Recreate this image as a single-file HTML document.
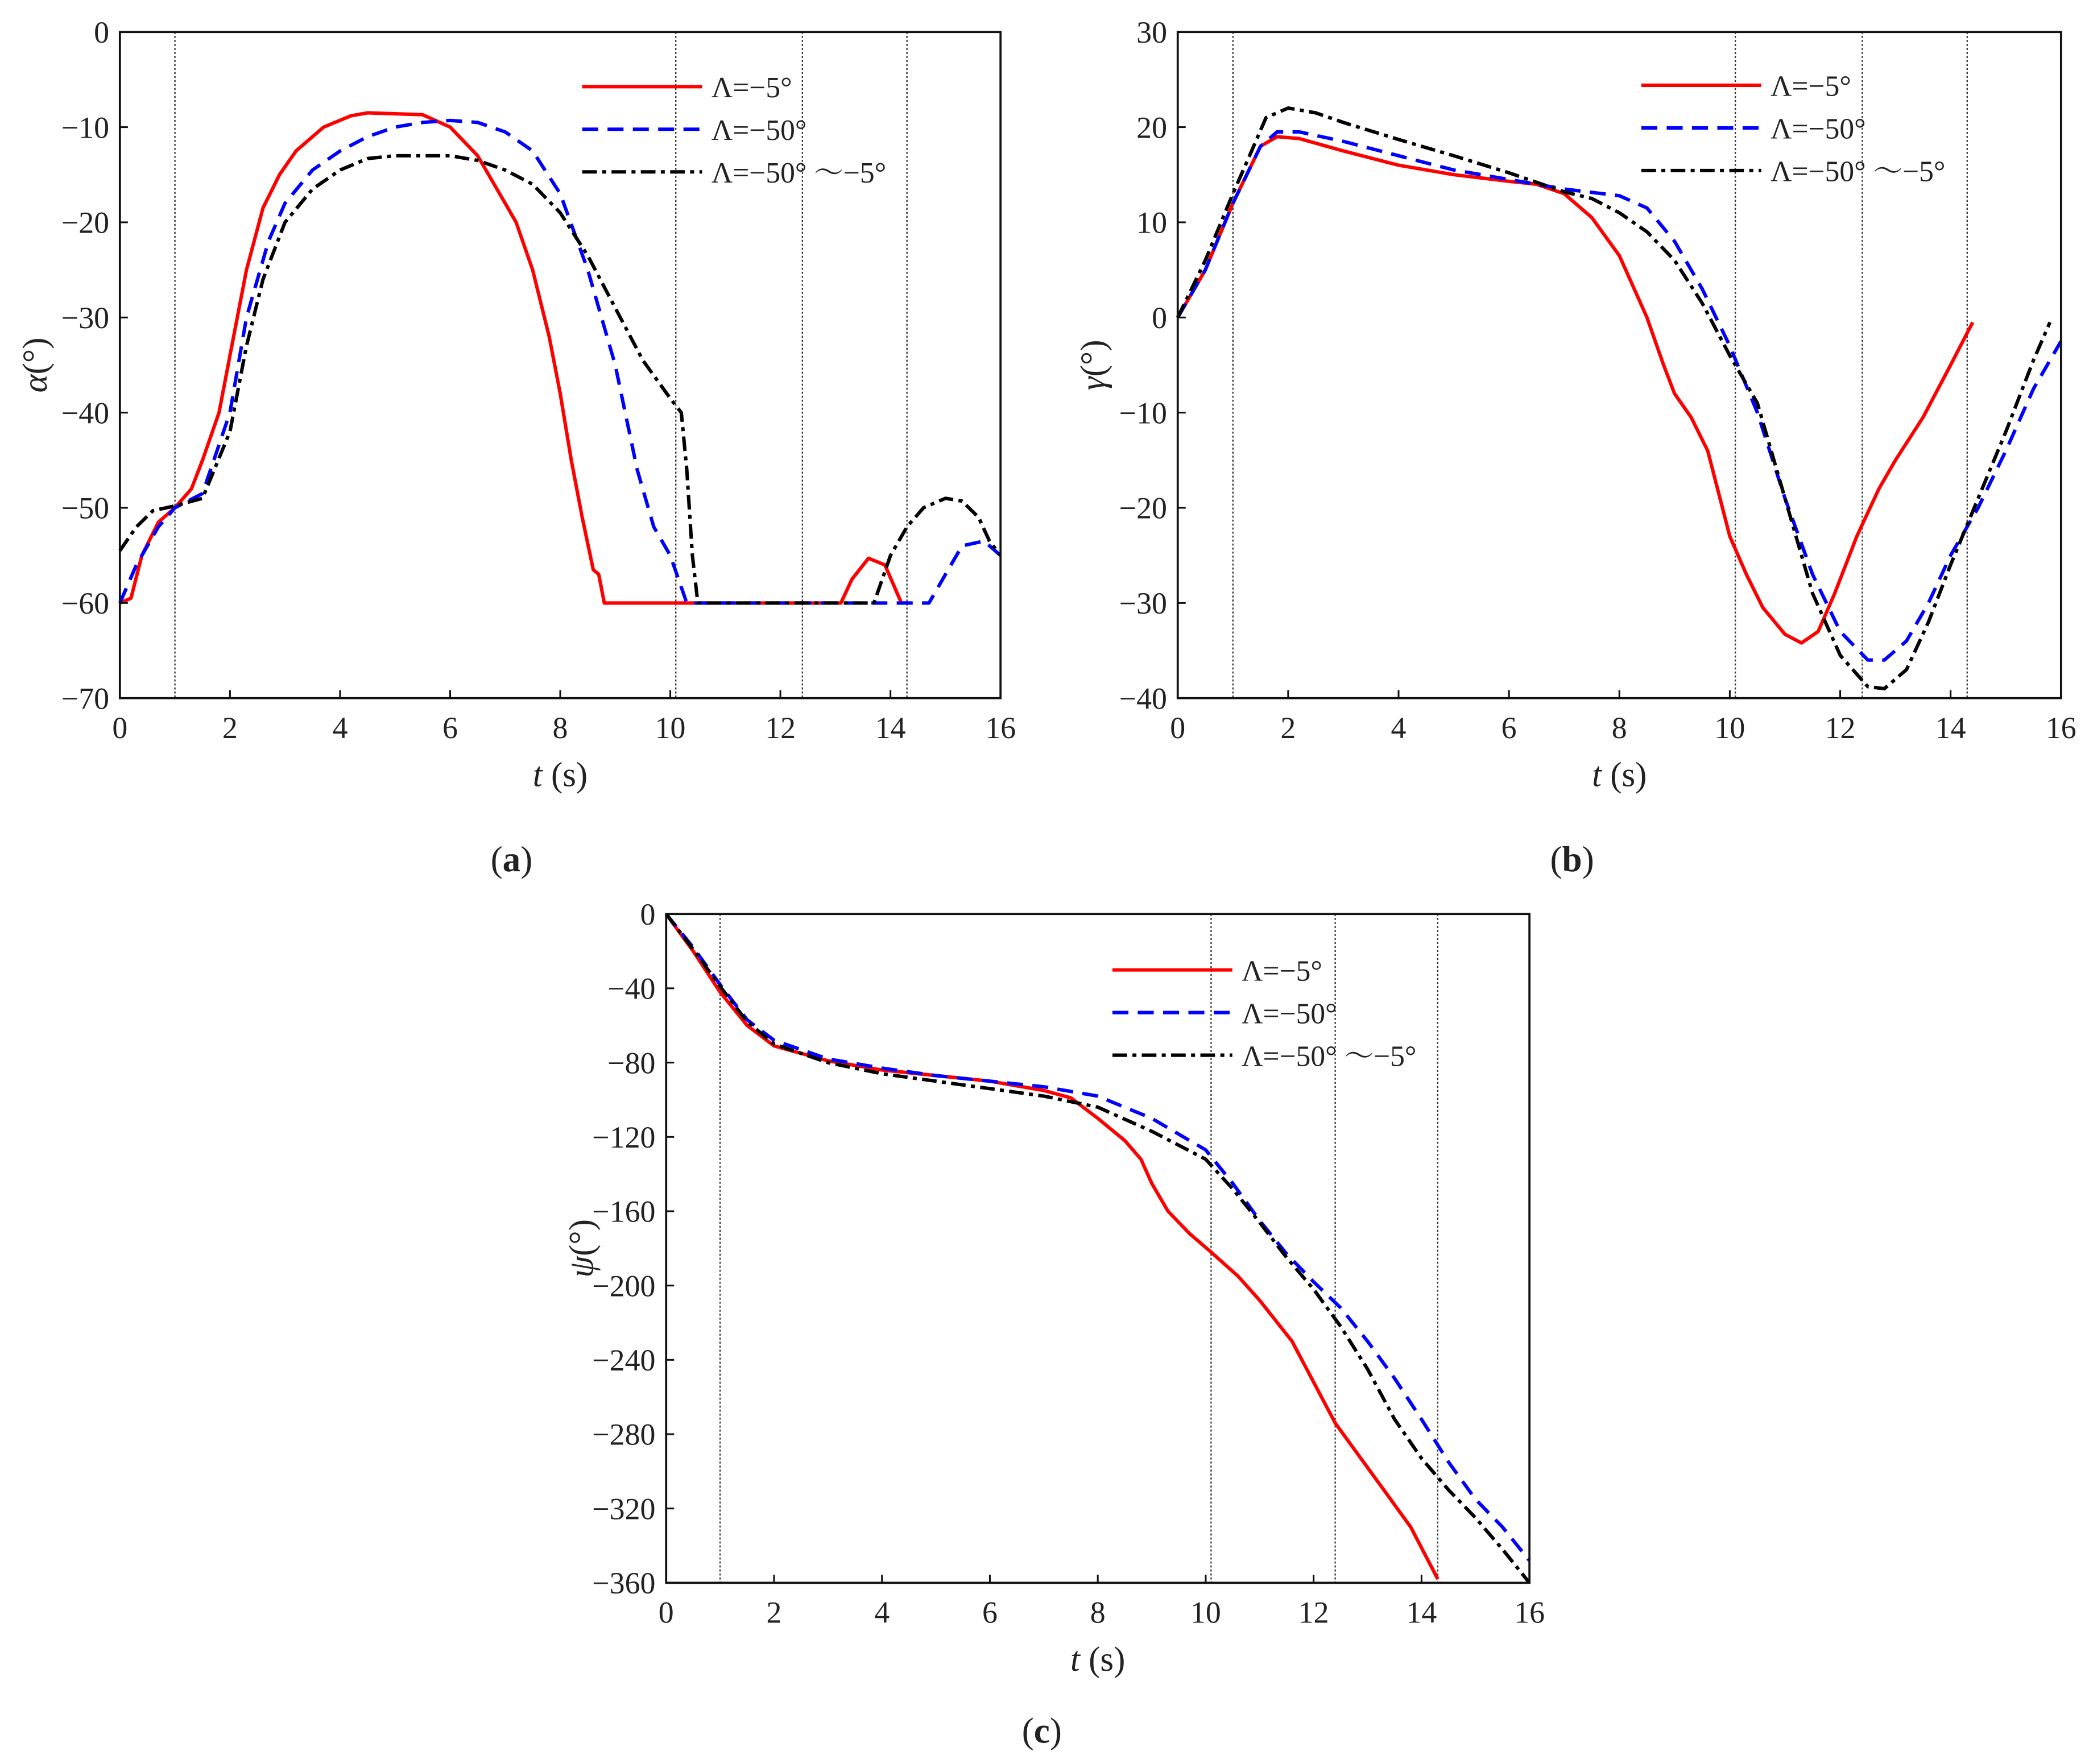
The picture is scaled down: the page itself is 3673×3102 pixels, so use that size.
<!DOCTYPE html>
<html><head><meta charset="utf-8">
<style>
html,body{margin:0;padding:0;background:#fff;}
svg{display:block;}
text{font-family:"Liberation Serif","Noto Serif CJK SC",serif;fill:#222;}
</style></head>
<body>
<svg id="fig" width="3673" height="3102" viewBox="0 0 1568 1324" preserveAspectRatio="none" xmlns="http://www.w3.org/2000/svg"></svg>
<script>
// ---- data: panel (a) alpha ----
const aRedT=[0,0.2,0.4,0.7,1,1.3,1.5,1.8,2,2.3,2.6,2.9,3.2,3.7,4.2,4.5,5,5.5,6,6.5,7,7.2,7.5,7.8,8,8.2,8.4,8.6,8.7,8.8,13.1,13.3,13.6,13.9,14.2,14.3];
const aRedV=[-60,-59.5,-55,-51.5,-50,-48,-45,-40,-34,-25,-18.5,-15,-12.5,-10,-8.8,-8.5,-8.6,-8.7,-10,-13,-18,-20,-25,-32,-38,-45,-51,-56.5,-57,-60,-60,-57.5,-55.3,-56,-60,-60];
const aBlueT=[0,0.3,0.7,1,1.5,2,2.3,2.7,3,3.5,4,4.5,5,5.5,6,6.5,7,7.5,8,8.5,9,9.4,9.7,10,10.3,14.7,15,15.3,15.7,16];
const aBlueV=[-60,-56,-52,-50,-48.5,-40,-30,-22,-18,-14.5,-12.5,-11,-10,-9.5,-9.3,-9.5,-10.5,-12.5,-17,-25,-35,-46,-52,-55,-60,-60,-57,-54,-53.5,-55];
const aBlackT=[0,0.3,0.6,1,1.5,2,2.3,2.6,3,3.5,4,4.5,5,5.5,6,6.5,7,7.5,8,8.5,9,9.5,10,10.2,10.3,10.4,10.5,13.7,14,14.3,14.6,15,15.3,15.6,15.8,16];
const aBlackV=[-54.5,-52,-50.3,-49.8,-49,-42,-33,-26,-20,-16.5,-14.5,-13.3,-13,-13,-13,-13.5,-14.5,-16,-19,-23.5,-29,-34.5,-38.5,-40,-46,-55,-60,-60,-55,-52,-50,-49,-49.3,-51,-53.5,-55];
// ---- data: panel (b) gamma ----
const bRedT=[0,0.5,1,1.5,1.8,2.2,3,4,5,6,6.5,7,7.5,8,8.5,8.8,9,9.3,9.6,10,10.3,10.6,11,11.3,11.6,11.9,12.3,12.7,13,13.5,14,14.4];
const bRedV=[0,5,12,18,19,18.8,17.5,16,15,14.3,14,13,10.5,6.5,0,-5,-8,-10.5,-14,-23,-27,-30.5,-33.3,-34.2,-33,-29,-23,-18,-15,-10.5,-5,-0.5];
const bBlueT=[0,0.5,1,1.5,1.8,2.2,3,4,5,6,7,8,8.5,9,9.5,10,10.5,11,11.5,12,12.5,12.8,13.2,13.6,14,14.5,15,15.5,16];
const bBlueV=[0,5,12,18,19.5,19.5,18.5,17,15.5,14.5,13.5,12.8,11.5,8,3,-3,-10,-19,-27,-33,-36,-36,-34,-30,-25,-20,-14,-7.5,-2.5];
const bBlackT=[0,0.5,1,1.3,1.6,2,2.5,3,4,5,6,7,7.5,8,8.5,9,9.5,10,10.5,11,11.5,12,12.5,12.8,13.2,13.6,14,14.5,15,15.5,15.8];
const bBlackV=[0,6,13,17,21,22,21.5,20.5,18.7,17,15.2,13.2,12.5,11,9,6,1.5,-4,-9,-19,-29,-35.5,-38.8,-39,-37,-32,-26,-19,-12,-4.5,-0.5];
// ---- data: panel (c) psi ----
const cRedT=[0,0.5,1,1.5,2,3,4,5,6,7,7.5,8,8.5,8.8,9,9.3,9.7,10.1,10.6,11,11.6,12,12.4,12.8,13.3,13.8,14.3];
const cRedV=[0,-20,-42,-60,-71,-79,-84,-87,-90,-95,-99,-110,-122,-132,-145,-160,-172,-182,-195,-208,-230,-252,-274,-290,-310,-330,-358];
const cBlueT=[0,0.5,1,1.5,2,3,4,5,6,7,8,9,10,10.5,11,11.5,12,12.5,13,13.5,14,14.5,15,15.5,16];
const cBlueV=[0,-18,-38,-57,-68,-78,-83,-87,-90,-93,-98,-110,-127,-145,-165,-183,-198,-212,-230,-250,-272,-295,-315,-330,-348];
const cBlackT=[0,0.5,1,1.5,2,3,4,5,6,7,8,9,10,10.5,11,11.5,12,12.5,13,13.5,14,14.5,15,15.5,16];
const cBlackV=[0,-19,-39,-58,-70,-80,-86,-90,-94,-98,-104,-117,-132,-148,-166,-185,-202,-222,-245,-272,-293,-310,-325,-342,-360];
// ---- ticks / markers ----
const xTicks=[0,2,4,6,8,10,12,14,16];
const aTicks=[0,-10,-20,-30,-40,-50,-60,-70];
const bTicks=[30,20,10,0,-10,-20,-30,-40];
const cTicks=[0,-40,-80,-120,-160,-200,-240,-280,-320,-360];
const phaseTimes=[1,10.1,12.4,14.3];
const legendLabels=["Λ=−5°","Λ=−50°","Λ=−50°  ～−5°"];

const NS="http://www.w3.org/2000/svg";
const svg=document.getElementById('fig');
function mk(tag,attrs,parent){const e=document.createElementNS(NS,tag);for(const k in attrs)e.setAttribute(k,attrs[k]);(parent||svg).appendChild(e);return e;}

function panel(id,box,yMin,yMax,yTicks,series,ylab,legPos,label){
  const g=mk('g',{});
  
  
  const sx=t=>box.l+(t-0)/16*(box.r-box.l);
  const sy=v=>box.b-(v-yMin)/(yMax-yMin)*(box.b-box.t);
  phaseTimes.forEach(t=>{const l=mk('line',{x1:sx(t),x2:sx(t),y1:box.t,y2:box.b,stroke:'#333','stroke-width':1,'stroke-dasharray':'1.5,1.5'},g);
    
    });
  const styles=[{c:'#f00',d:''},{c:'#00f',d:'12,7'},{c:'#000',d:'11,4,3,4'}];
  const names=['series-lambda-5','series-lambda-50','series-lambda-var'];
  series.forEach((s,i)=>{
    const pts=s[0].map((t,j)=>sx(t).toFixed(1)+','+sy(s[1][j]).toFixed(1)).join(' ');
    const p=mk('polyline',{points:pts,fill:'none',stroke:styles[i].c,'stroke-width':2.6,'stroke-dasharray':styles[i].d,'stroke-linejoin':'round'},g);
    
    
  });
  const f=mk('rect',{x:box.l,y:box.t,width:box.r-box.l,height:box.b-box.t,fill:'none',stroke:'#111','stroke-width':1.6},g);
  
  
  xTicks.forEach(t=>{mk('line',{x1:sx(t),x2:sx(t),y1:box.b,y2:box.b-6,stroke:'#111','stroke-width':1.3},g);
    const tx=mk('text',{x:sx(t),y:box.b+30,'text-anchor':'middle','font-size':23},g);tx.textContent=t;
    
    });
  yTicks.forEach(v=>{mk('line',{x1:box.l,x2:box.l+6,y1:sy(v),y2:sy(v),stroke:'#111','stroke-width':1.3},g);
    const tx=mk('text',{x:box.l-8,y:sy(v)+8,'text-anchor':'end','font-size':23},g);tx.textContent=(v<0?'−':'')+Math.abs(v);
    
    });
  const xt=mk('text',{x:(box.l+box.r)/2,y:box.b+66,'text-anchor':'middle','font-size':26},g);
  xt.innerHTML='<tspan font-style="italic">t</tspan> (s)';
  
  
  const cy=(box.t+box.b)/2;
  const yt=mk('text',{x:box.l-55,y:cy,'text-anchor':'middle','font-size':26,transform:`rotate(-90 ${box.l-55} ${cy})`},g);
  yt.innerHTML='<tspan font-style="italic">'+ylab+'</tspan>(°)';
  
  
  legendLabels.forEach((lab,i)=>{const y=legPos[1]+i*32;
    const ll=mk('line',{x1:legPos[0],x2:legPos[0]+90,y1:y,y2:y,stroke:styles[i].c,'stroke-width':2.6,'stroke-dasharray':styles[i].d},g);
    
    
    const t=mk('text',{x:legPos[0]+97,y:y+8,'font-size':22},g);t.textContent=lab;
    
    });
  const pl=mk('text',{x:label[0],y:label[1],'text-anchor':'middle','font-size':27},g);
  pl.innerHTML='(<tspan font-weight="bold">'+id+'</tspan>)';
  
  
}
panel('a',{l:90,r:751,t:24,b:524},-70,0,aTicks,[[aRedT,aRedV],[aBlueT,aBlueV],[aBlackT,aBlackV]],'α',[437,65],[384,654]);
panel('b',{l:884,r:1547,t:24,b:524},-40,30,bTicks,[[bRedT,bRedV],[bBlueT,bBlueV],[bBlackT,bBlackV]],'γ',[1232,64],[1180,654]);
panel('c',{l:500,r:1148,t:686,b:1188},-360,0,cTicks,[[cRedT,cRedV],[cBlueT,cBlueV],[cBlackT,cBlackV]],'ψ',[835,728],[782,1308]);
</script>
</body></html>
